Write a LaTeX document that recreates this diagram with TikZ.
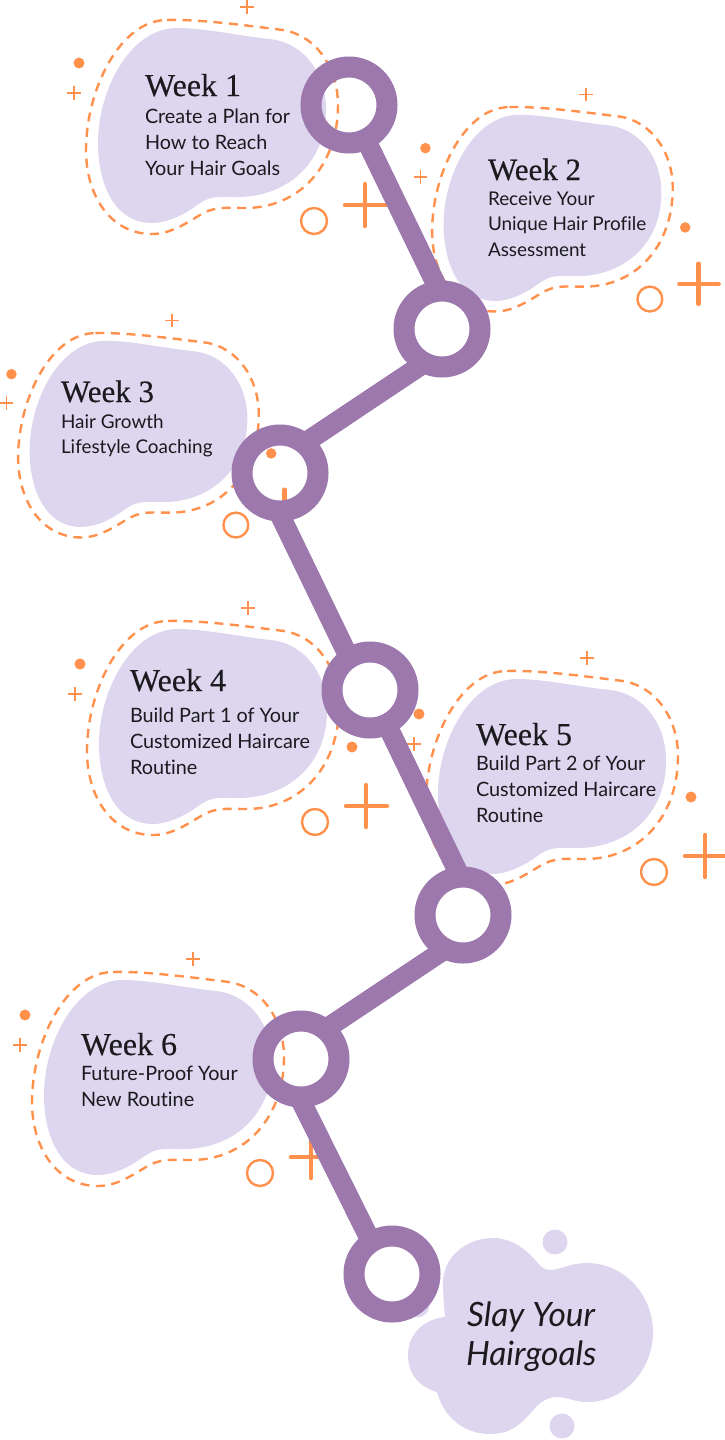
\documentclass[tikz,border=0pt]{standalone}
\usepackage{fontspec}
\setmainfont[Ligatures={NoCommon}]{Lato}
\newfontfamily\headfont[FakeBold=0.3]{Liberation Serif}
\definecolor{ringc}{HTML}{9C78AD}
\definecolor{blobc}{HTML}{DDD6EE}
\definecolor{orangec}{HTML}{FF914D}
\definecolor{inkc}{HTML}{1A1A1F}
\tikzset{
  blobfill/.style={fill=blobc,draw=none},
  dashline/.style={draw=orangec,line width=2.4pt,dash pattern=on 9pt off 6.5pt},
  orangefill/.style={fill=orangec,draw=none},
  thinplus/.style={draw=orangec,line width=1.6pt},
  bigplus/.style={draw=orangec,line width=4.5pt,line cap=round},
  hollow/.style={draw=orangec,line width=2.4pt},
  ringnode/.style={circle,draw=ringc,line width=21pt,minimum size=76pt,inner sep=0pt,outer sep=0pt},
  linkline/.style={draw=ringc,line width=20pt},
  weeklabel/.style={anchor=base west,inner sep=0pt,outer sep=0pt,text=inkc,font=\headfont\fontsize{32}{34}\selectfont},
  weeksmall/.style={weeklabel,font=\headfont\fontsize{31}{34}\selectfont},
  bodylabel/.style={anchor=base west,inner sep=0pt,outer sep=0pt,text=inkc,align=left,font=\fontsize{19.8}{25.7}\selectfont},
  bodysmall/.style={bodylabel,font=\fontsize{18.9}{25.5}\selectfont},
  goallabel/.style={anchor=base west,inner sep=0pt,outer sep=0pt,text=inkc,font=\itshape\fontsize{33.5}{39}\selectfont},
}
\newcommand{\blobgroup}[3]{%
\begin{scope}[shift={(#1,#2)},scale=#3]
  \path[blobfill] (177,28) .. controls (205,28) and (240,36) .. (270,39)
    .. controls (305,43) and (327,75) .. (326,112)
    .. controls (325,165) and (285,198) .. (235,197)
    .. controls (210,196) and (207,198) .. (193,208)
    .. controls (180,217) and (165,223) .. (152,223)
    .. controls (115,223) and (98,185) .. (98,143)
    .. controls (98,90) and (130,28) .. (177,28) -- cycle;
  \path[dashline] (167,20) .. controls (200,19) and (250,26) .. (283,30)
    .. controls (318,36) and (338,70) .. (338,105)
    .. controls (338,165) and (300,208) .. (245,208)
    .. controls (225,208) and (215,206) .. (200,215)
    .. controls (185,224) and (170,234) .. (152,234)
    .. controls (110,234) and (86,195) .. (86,150)
    .. controls (86,90) and (120,20) .. (167,20) -- cycle;
  \path[orangefill] (79,63) circle[radius=5.5];
  \path[orangefill] (351,146) circle[radius=5.5];
  \path[thinplus] (67,93) -- (81,93) (74,86) -- (74,100);
  \path[thinplus] (240,7) -- (254,7) (247,0) -- (247,14);
  \path[hollow] (314,221) circle[radius=13];
  \path[bigplus] (345,205) -- (386,205) (365,184) -- (365,226);
\end{scope}}
\begin{document}
\begin{tikzpicture}[x=1pt,y=-1pt]
\useasboundingbox (0,0) rectangle (724,1440);
\blobgroup{0}{0}{1}
\blobgroup{350}{88}{0.955}
\blobgroup{-64}{314}{0.955}
\blobgroup{1}{601}{1}
\blobgroup{340}{651}{1}
\blobgroup{-54}{952}{1}
% final blob
\path[blobfill] (417,1305) circle[radius=12.5];
\path[blobfill] (555,1242) circle[radius=12.5];
\path[blobfill] (562,1426) circle[radius=12.5];
\path[blobfill] (493,1238) .. controls (512,1238) and (527,1250) .. (537,1262)
  .. controls (541,1267) and (545,1270) .. (550,1270)
  .. controls (560,1270) and (570,1263) .. (587,1263)
  .. controls (624,1263) and (653,1295) .. (653,1332)
  .. controls (653,1370) and (624,1402) .. (587,1402)
  .. controls (575,1402) and (567,1397) .. (557,1397)
  .. controls (530,1397) and (530,1434) .. (490,1434)
  .. controls (462,1434) and (443,1415) .. (437,1392)
  .. controls (420,1387) and (408,1375) .. (408,1355)
  .. controls (408,1333) and (425,1319) .. (445,1317)
  .. controls (444,1305) and (443,1295) .. (443,1283)
  .. controls (443,1258) and (465,1238) .. (493,1238) -- cycle;
% rings
\node[ringnode] (r1) at (349,105) {};
\node[ringnode] (r2) at (442,329) {};
\node[ringnode] (r3) at (280,473) {};
\node[ringnode] (r4) at (370,690) {};
\node[ringnode] (r5) at (463,915) {};
\node[ringnode] (r6) at (301,1059) {};
\node[ringnode] (r7) at (392,1274) {};
\draw[linkline] (r1.-64) -- (r2.94);
\draw[linkline] (r2.243) -- (r3.51);
\draw[linkline] (r3.-93) -- (r4.123);
\draw[linkline] (r4.-64) -- (r5.94);
\draw[linkline] (r5.243) -- (r6.51);
\draw[linkline] (r6.-93) -- (r7.123);
% text
\node[weeklabel] (w1) at (145,96) {Week 1};
\node[bodylabel] (b1) at (145,175) {Create a Plan for\\How to Reach\\Your Hair Goals};
\node[weeksmall] (w2) at (488,180) {Week 2};
\node[bodysmall] (b2) at (488,256) {Receive Your\\Unique Hair Profile\\Assessment};
\node[weeksmall] (w3) at (61,402) {Week 3};
\node[bodysmall] (b3) at (61,453.5) {Hair Growth\\Lifestyle Coaching};
\node[weeklabel] (w4) at (130,691) {Week 4};
\node[bodylabel] (b4) at (130,774) {Build Part 1 of Your\\Customized Haircare\\Routine};
\node[weeklabel] (w5) at (476,745) {Week 5};
\node[bodylabel] (b5) at (476,822) {Build Part 2 of Your\\Customized Haircare\\Routine};
\node[weeklabel] (w6) at (81,1055) {Week 6};
\node[bodylabel] (b6) at (81,1106.5) {Future-Proof Your\\New Routine};
\node[goallabel] (g1) at (467,1326) {Slay Your};
\node[goallabel] (g2) at (466,1365) {Hairgoals};
\end{tikzpicture}
\end{document}
